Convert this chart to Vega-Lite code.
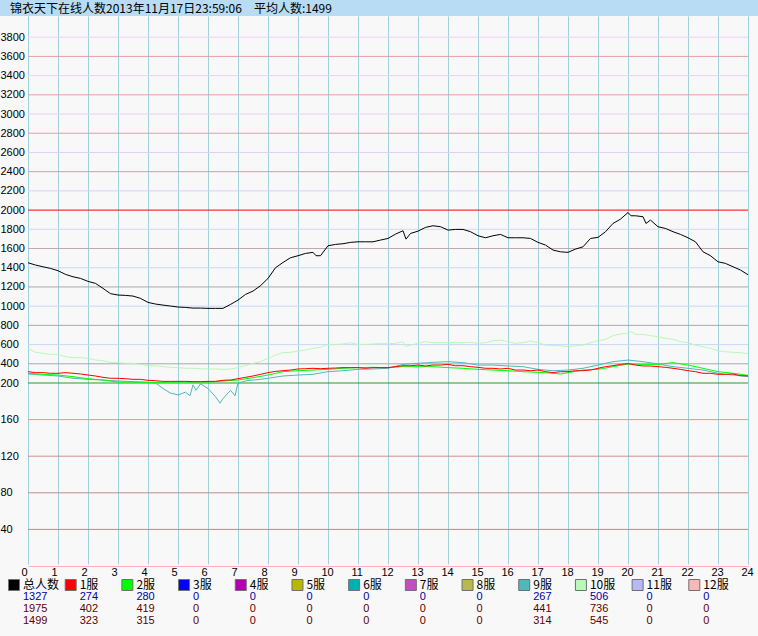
{
"$schema": "https://vega.github.io/schema/vega-lite/v6.json",
"background": "#f8f8f8",
"padding": {"left": 0, "top": 0, "right": 0, "bottom": 10},
"spacing": 0,
"config": {"view": {"stroke": null}, "font": "Liberation Sans"},
"resolve": {"scale": {"x": "independent", "y": "independent", "color": "independent"}},
"datasets": {
"grid": [{"v":40},{"v":80},{"v":120},{"v":160},{"v":200},{"v":400},{"v":600},{"v":800},{"v":1000},{"v":1200},{"v":1400},{"v":1600},{"v":1800},{"v":2000},{"v":2200},{"v":2400},{"v":2600},{"v":2800},{"v":3000},{"v":3200},{"v":3400},{"v":3600},{"v":3800}],
"series": [
{"s":"10服","h":0,"v":561},{"s":"10服","h":0.25,"v":519},{"s":"10服","h":0.5,"v":509},{"s":"10服","h":0.75,"v":498},{"s":"10服","h":1,"v":498},{"s":"10服","h":1.25,"v":474},{"s":"10服","h":1.5,"v":464},{"s":"10服","h":1.75,"v":464},{"s":"10服","h":2,"v":457},{"s":"10服","h":2.25,"v":439},{"s":"10服","h":2.5,"v":432},{"s":"10服","h":2.75,"v":415},{"s":"10服","h":3,"v":412},{"s":"10服","h":3.25,"v":405},{"s":"10服","h":3.5,"v":405},{"s":"10服","h":3.75,"v":394},{"s":"10服","h":4,"v":380},{"s":"10服","h":4.25,"v":377},{"s":"10服","h":4.5,"v":370},{"s":"10服","h":4.75,"v":363},{"s":"10服","h":5,"v":360},{"s":"10服","h":5.25,"v":353},{"s":"10服","h":5.5,"v":353},{"s":"10服","h":5.75,"v":349},{"s":"10服","h":6,"v":346},{"s":"10服","h":6.25,"v":346},{"s":"10服","h":6.5,"v":342},{"s":"10服","h":6.75,"v":346},{"s":"10服","h":7,"v":360},{"s":"10服","h":7.25,"v":380},{"s":"10服","h":7.5,"v":405},{"s":"10服","h":7.75,"v":422},{"s":"10服","h":8,"v":457},{"s":"10服","h":8.25,"v":491},{"s":"10服","h":8.5,"v":516},{"s":"10服","h":8.75,"v":519},{"s":"10服","h":9,"v":533},{"s":"10服","h":9.25,"v":543},{"s":"10服","h":9.5,"v":561},{"s":"10服","h":9.75,"v":571},{"s":"10服","h":10,"v":602},{"s":"10服","h":10.25,"v":602},{"s":"10服","h":10.5,"v":606},{"s":"10服","h":10.75,"v":620},{"s":"10服","h":11,"v":602},{"s":"10服","h":11.25,"v":602},{"s":"10服","h":11.5,"v":606},{"s":"10服","h":11.75,"v":613},{"s":"10服","h":12,"v":610},{"s":"10服","h":12.25,"v":613},{"s":"10服","h":12.5,"v":630},{"s":"10服","h":12.6,"v":578},{"s":"10服","h":12.75,"v":595},{"s":"10服","h":13,"v":613},{"s":"10服","h":13.25,"v":630},{"s":"10服","h":13.5,"v":620},{"s":"10服","h":13.75,"v":623},{"s":"10服","h":14,"v":620},{"s":"10服","h":14.25,"v":623},{"s":"10服","h":14.5,"v":620},{"s":"10服","h":14.75,"v":623},{"s":"10服","h":15,"v":613},{"s":"10服","h":15.25,"v":620},{"s":"10服","h":15.5,"v":640},{"s":"10服","h":15.75,"v":647},{"s":"10服","h":16,"v":630},{"s":"10服","h":16.25,"v":613},{"s":"10服","h":16.5,"v":620},{"s":"10服","h":16.75,"v":637},{"s":"10服","h":17,"v":620},{"s":"10服","h":17.25,"v":595},{"s":"10服","h":17.5,"v":588},{"s":"10服","h":17.75,"v":588},{"s":"10服","h":18,"v":578},{"s":"10服","h":18.25,"v":588},{"s":"10服","h":18.5,"v":595},{"s":"10服","h":18.75,"v":620},{"s":"10服","h":19,"v":640},{"s":"10服","h":19.25,"v":654},{"s":"10服","h":19.5,"v":693},{"s":"10服","h":19.75,"v":710},{"s":"10服","h":20,"v":717},{"s":"10服","h":20.1,"v":736},{"s":"10服","h":20.25,"v":706},{"s":"10服","h":20.5,"v":706},{"s":"10服","h":20.75,"v":693},{"s":"10服","h":21,"v":682},{"s":"10服","h":21.25,"v":665},{"s":"10服","h":21.5,"v":654},{"s":"10服","h":21.75,"v":630},{"s":"10服","h":22,"v":620},{"s":"10服","h":22.25,"v":595},{"s":"10服","h":22.5,"v":578},{"s":"10服","h":22.75,"v":561},{"s":"10服","h":23,"v":536},{"s":"10服","h":23.25,"v":526},{"s":"10服","h":23.5,"v":519},{"s":"10服","h":23.75,"v":516},{"s":"10服","h":24,"v":506},
{"s":"9服","h":0,"v":294},{"s":"9服","h":0.5,"v":283},{"s":"9服","h":1,"v":273},{"s":"9服","h":1.5,"v":249},{"s":"9服","h":2,"v":238},{"s":"9服","h":2.5,"v":231},{"s":"9服","h":3,"v":221},{"s":"9服","h":3.5,"v":214},{"s":"9服","h":4,"v":207},{"s":"9服","h":4.25,"v":200},{"s":"9服","h":4.5,"v":194},{"s":"9服","h":4.75,"v":189},{"s":"9服","h":5,"v":187},{"s":"9服","h":5.25,"v":190},{"s":"9服","h":5.4,"v":186},{"s":"9服","h":5.5,"v":198},{"s":"9服","h":5.6,"v":192},{"s":"9服","h":5.75,"v":199},{"s":"9服","h":6,"v":194},{"s":"9服","h":6.25,"v":185},{"s":"9服","h":6.4,"v":178},{"s":"9服","h":6.5,"v":183},{"s":"9服","h":6.75,"v":192},{"s":"9服","h":6.9,"v":186},{"s":"9服","h":7,"v":200},{"s":"9服","h":7.25,"v":221},{"s":"9服","h":7.5,"v":231},{"s":"9服","h":7.75,"v":238},{"s":"9服","h":8,"v":249},{"s":"9服","h":8.5,"v":273},{"s":"9服","h":9,"v":283},{"s":"9服","h":9.5,"v":290},{"s":"9服","h":10,"v":318},{"s":"9服","h":10.5,"v":328},{"s":"9服","h":11,"v":342},{"s":"9服","h":11.5,"v":346},{"s":"9服","h":12,"v":353},{"s":"9服","h":12.5,"v":394},{"s":"9服","h":13,"v":405},{"s":"9服","h":13.5,"v":415},{"s":"9服","h":14,"v":422},{"s":"9服","h":14.5,"v":412},{"s":"9服","h":15,"v":387},{"s":"9服","h":15.5,"v":387},{"s":"9服","h":16,"v":377},{"s":"9服","h":16.5,"v":370},{"s":"9服","h":17,"v":342},{"s":"9服","h":17.5,"v":328},{"s":"9服","h":18,"v":335},{"s":"9服","h":18.5,"v":353},{"s":"9服","h":19,"v":387},{"s":"9服","h":19.5,"v":422},{"s":"9服","h":20,"v":439},{"s":"9服","h":20.5,"v":422},{"s":"9服","h":21,"v":398},{"s":"9服","h":21.5,"v":370},{"s":"9服","h":22,"v":353},{"s":"9服","h":22.5,"v":335},{"s":"9服","h":23,"v":301},{"s":"9服","h":23.5,"v":283},{"s":"9服","h":24,"v":267},
{"s":"2服","h":0,"v":301},{"s":"2服","h":0.5,"v":290},{"s":"2服","h":1,"v":283},{"s":"2服","h":1.5,"v":266},{"s":"2服","h":2,"v":245},{"s":"2服","h":2.5,"v":231},{"s":"2服","h":3,"v":210},{"s":"2服","h":3.5,"v":210},{"s":"2服","h":4,"v":207},{"s":"2服","h":4.5,"v":207},{"s":"2服","h":5,"v":210},{"s":"2服","h":5.5,"v":210},{"s":"2服","h":6,"v":210},{"s":"2服","h":6.5,"v":221},{"s":"2服","h":7,"v":231},{"s":"2服","h":7.5,"v":255},{"s":"2服","h":8,"v":283},{"s":"2服","h":8.5,"v":318},{"s":"2服","h":9,"v":328},{"s":"2服","h":9.5,"v":335},{"s":"2服","h":10,"v":342},{"s":"2服","h":10.5,"v":353},{"s":"2服","h":11,"v":360},{"s":"2服","h":11.5,"v":363},{"s":"2服","h":12,"v":360},{"s":"2服","h":12.5,"v":370},{"s":"2服","h":13,"v":370},{"s":"2服","h":13.5,"v":370},{"s":"2服","h":14,"v":360},{"s":"2服","h":14.5,"v":353},{"s":"2服","h":15,"v":342},{"s":"2服","h":15.5,"v":335},{"s":"2服","h":16,"v":328},{"s":"2服","h":16.5,"v":318},{"s":"2服","h":17,"v":311},{"s":"2服","h":17.5,"v":301},{"s":"2服","h":17.75,"v":294},{"s":"2服","h":18,"v":308},{"s":"2服","h":18.5,"v":335},{"s":"2服","h":19,"v":342},{"s":"2服","h":19.5,"v":370},{"s":"2服","h":20,"v":398},{"s":"2服","h":20.5,"v":394},{"s":"2服","h":21,"v":394},{"s":"2服","h":21.5,"v":412},{"s":"2服","h":22,"v":387},{"s":"2服","h":22.5,"v":353},{"s":"2服","h":23,"v":318},{"s":"2服","h":23.5,"v":301},{"s":"2服","h":24,"v":280},
{"s":"1服","h":0,"v":318},{"s":"1服","h":0.25,"v":308},{"s":"1服","h":0.5,"v":308},{"s":"1服","h":0.75,"v":301},{"s":"1服","h":1,"v":301},{"s":"1服","h":1.25,"v":308},{"s":"1服","h":1.5,"v":301},{"s":"1服","h":1.75,"v":294},{"s":"1服","h":2,"v":283},{"s":"1服","h":2.25,"v":273},{"s":"1服","h":2.5,"v":259},{"s":"1服","h":2.75,"v":249},{"s":"1服","h":3,"v":249},{"s":"1服","h":3.25,"v":245},{"s":"1服","h":3.5,"v":238},{"s":"1服","h":3.75,"v":238},{"s":"1服","h":4,"v":228},{"s":"1服","h":4.25,"v":224},{"s":"1服","h":4.5,"v":217},{"s":"1服","h":4.75,"v":217},{"s":"1服","h":5,"v":217},{"s":"1服","h":5.25,"v":217},{"s":"1服","h":5.5,"v":214},{"s":"1服","h":5.75,"v":214},{"s":"1服","h":6,"v":217},{"s":"1服","h":6.25,"v":217},{"s":"1服","h":6.5,"v":228},{"s":"1服","h":6.75,"v":231},{"s":"1服","h":7,"v":245},{"s":"1服","h":7.25,"v":259},{"s":"1服","h":7.5,"v":273},{"s":"1服","h":7.75,"v":290},{"s":"1服","h":8,"v":308},{"s":"1服","h":8.25,"v":321},{"s":"1服","h":8.5,"v":328},{"s":"1服","h":8.75,"v":335},{"s":"1服","h":9,"v":346},{"s":"1服","h":9.25,"v":349},{"s":"1服","h":9.5,"v":353},{"s":"1服","h":9.75,"v":349},{"s":"1服","h":10,"v":353},{"s":"1服","h":10.25,"v":356},{"s":"1服","h":10.5,"v":360},{"s":"1服","h":10.75,"v":360},{"s":"1服","h":11,"v":360},{"s":"1服","h":11.25,"v":353},{"s":"1服","h":11.5,"v":360},{"s":"1服","h":11.75,"v":360},{"s":"1服","h":12,"v":360},{"s":"1服","h":12.25,"v":370},{"s":"1服","h":12.5,"v":380},{"s":"1服","h":12.75,"v":380},{"s":"1服","h":13,"v":387},{"s":"1服","h":13.25,"v":377},{"s":"1服","h":13.5,"v":387},{"s":"1服","h":13.75,"v":387},{"s":"1服","h":14,"v":394},{"s":"1服","h":14.25,"v":380},{"s":"1服","h":14.5,"v":380},{"s":"1服","h":14.75,"v":370},{"s":"1服","h":15,"v":363},{"s":"1服","h":15.25,"v":353},{"s":"1服","h":15.5,"v":353},{"s":"1服","h":15.75,"v":346},{"s":"1服","h":16,"v":353},{"s":"1服","h":16.25,"v":335},{"s":"1服","h":16.5,"v":335},{"s":"1服","h":16.75,"v":328},{"s":"1服","h":17,"v":335},{"s":"1服","h":17.25,"v":318},{"s":"1服","h":17.5,"v":308},{"s":"1服","h":17.75,"v":318},{"s":"1服","h":18,"v":318},{"s":"1服","h":18.25,"v":328},{"s":"1服","h":18.5,"v":328},{"s":"1服","h":18.75,"v":335},{"s":"1服","h":19,"v":353},{"s":"1服","h":19.25,"v":370},{"s":"1服","h":19.5,"v":380},{"s":"1服","h":19.75,"v":394},{"s":"1服","h":20,"v":402},{"s":"1服","h":20.25,"v":387},{"s":"1服","h":20.5,"v":377},{"s":"1服","h":20.75,"v":377},{"s":"1服","h":21,"v":370},{"s":"1服","h":21.25,"v":363},{"s":"1服","h":21.5,"v":353},{"s":"1服","h":21.75,"v":342},{"s":"1服","h":22,"v":328},{"s":"1服","h":22.25,"v":318},{"s":"1服","h":22.5,"v":301},{"s":"1服","h":22.75,"v":301},{"s":"1服","h":23,"v":290},{"s":"1服","h":23.25,"v":290},{"s":"1服","h":23.5,"v":294},{"s":"1服","h":23.75,"v":276},{"s":"1服","h":24,"v":274},
{"s":"总人数","h":0,"v":1452},{"s":"总人数","h":0.25,"v":1428},{"s":"总人数","h":0.5,"v":1410},{"s":"总人数","h":0.75,"v":1393},{"s":"总人数","h":1,"v":1369},{"s":"总人数","h":1.25,"v":1331},{"s":"总人数","h":1.5,"v":1306},{"s":"总人数","h":1.75,"v":1289},{"s":"总人数","h":2,"v":1258},{"s":"总人数","h":2.25,"v":1237},{"s":"总人数","h":2.5,"v":1185},{"s":"总人数","h":2.75,"v":1130},{"s":"总人数","h":3,"v":1116},{"s":"总人数","h":3.25,"v":1112},{"s":"总人数","h":3.5,"v":1105},{"s":"总人数","h":3.75,"v":1081},{"s":"总人数","h":4,"v":1039},{"s":"总人数","h":4.25,"v":1022},{"s":"总人数","h":4.5,"v":1011},{"s":"总人数","h":4.75,"v":1001},{"s":"总人数","h":5,"v":991},{"s":"总人数","h":5.25,"v":987},{"s":"总人数","h":5.5,"v":980},{"s":"总人数","h":5.75,"v":980},{"s":"总人数","h":6,"v":977},{"s":"总人数","h":6.25,"v":977},{"s":"总人数","h":6.5,"v":977},{"s":"总人数","h":6.75,"v":1018},{"s":"总人数","h":7,"v":1063},{"s":"总人数","h":7.25,"v":1122},{"s":"总人数","h":7.5,"v":1157},{"s":"总人数","h":7.75,"v":1213},{"s":"总人数","h":8,"v":1289},{"s":"总人数","h":8.25,"v":1400},{"s":"总人数","h":8.5,"v":1455},{"s":"总人数","h":8.75,"v":1504},{"s":"总人数","h":9,"v":1525},{"s":"总人数","h":9.25,"v":1549},{"s":"总人数","h":9.5,"v":1560},{"s":"总人数","h":9.6,"v":1525},{"s":"总人数","h":9.75,"v":1525},{"s":"总人数","h":10,"v":1629},{"s":"总人数","h":10.25,"v":1643},{"s":"总人数","h":10.5,"v":1650},{"s":"总人数","h":10.75,"v":1664},{"s":"总人数","h":11,"v":1670},{"s":"总人数","h":11.25,"v":1670},{"s":"总人数","h":11.5,"v":1670},{"s":"总人数","h":11.75,"v":1688},{"s":"总人数","h":12,"v":1705},{"s":"总人数","h":12.25,"v":1750},{"s":"总人数","h":12.5,"v":1785},{"s":"总人数","h":12.6,"v":1698},{"s":"总人数","h":12.75,"v":1757},{"s":"总人数","h":13,"v":1781},{"s":"总人数","h":13.25,"v":1820},{"s":"总人数","h":13.5,"v":1837},{"s":"总人数","h":13.75,"v":1827},{"s":"总人数","h":14,"v":1792},{"s":"总人数","h":14.25,"v":1799},{"s":"总人数","h":14.5,"v":1799},{"s":"总人数","h":14.75,"v":1775},{"s":"总人数","h":15,"v":1733},{"s":"总人数","h":15.25,"v":1712},{"s":"总人数","h":15.5,"v":1733},{"s":"总人数","h":15.75,"v":1747},{"s":"总人数","h":16,"v":1712},{"s":"总人数","h":16.25,"v":1712},{"s":"总人数","h":16.5,"v":1712},{"s":"总人数","h":16.75,"v":1705},{"s":"总人数","h":17,"v":1664},{"s":"总人数","h":17.25,"v":1636},{"s":"总人数","h":17.5,"v":1584},{"s":"总人数","h":17.75,"v":1566},{"s":"总人数","h":18,"v":1560},{"s":"总人数","h":18.25,"v":1594},{"s":"总人数","h":18.5,"v":1618},{"s":"总人数","h":18.75,"v":1705},{"s":"总人数","h":19,"v":1716},{"s":"总人数","h":19.25,"v":1775},{"s":"总人数","h":19.5,"v":1861},{"s":"总人数","h":19.75,"v":1906},{"s":"总人数","h":20,"v":1975},{"s":"总人数","h":20.1,"v":1941},{"s":"总人数","h":20.25,"v":1941},{"s":"总人数","h":20.5,"v":1931},{"s":"总人数","h":20.6,"v":1861},{"s":"总人数","h":20.75,"v":1896},{"s":"总人数","h":21,"v":1827},{"s":"总人数","h":21.25,"v":1809},{"s":"总人数","h":21.5,"v":1775},{"s":"总人数","h":21.75,"v":1747},{"s":"总人数","h":22,"v":1712},{"s":"总人数","h":22.25,"v":1670},{"s":"总人数","h":22.5,"v":1566},{"s":"总人数","h":22.75,"v":1525},{"s":"总人数","h":23,"v":1462},{"s":"总人数","h":23.25,"v":1445},{"s":"总人数","h":23.5,"v":1410},{"s":"总人数","h":23.75,"v":1376},{"s":"总人数","h":24,"v":1327}
],
"legend": [{"name":"总人数"},{"name":"1服"},{"name":"2服"},{"name":"3服"},{"name":"4服"},{"name":"5服"},{"name":"6服"},{"name":"7服"},{"name":"8服"},{"name":"9服"},{"name":"10服"},{"name":"11服"},{"name":"12服"}],
"table": [
{"name":"总人数","row":"cur","n":1327},{"name":"总人数","row":"max","n":1975},{"name":"总人数","row":"avg","n":1499},
{"name":"1服","row":"cur","n":274},{"name":"1服","row":"max","n":402},{"name":"1服","row":"avg","n":323},
{"name":"2服","row":"cur","n":280},{"name":"2服","row":"max","n":419},{"name":"2服","row":"avg","n":315},
{"name":"3服","row":"cur","n":0},{"name":"3服","row":"max","n":0},{"name":"3服","row":"avg","n":0},
{"name":"4服","row":"cur","n":0},{"name":"4服","row":"max","n":0},{"name":"4服","row":"avg","n":0},
{"name":"5服","row":"cur","n":0},{"name":"5服","row":"max","n":0},{"name":"5服","row":"avg","n":0},
{"name":"6服","row":"cur","n":0},{"name":"6服","row":"max","n":0},{"name":"6服","row":"avg","n":0},
{"name":"7服","row":"cur","n":0},{"name":"7服","row":"max","n":0},{"name":"7服","row":"avg","n":0},
{"name":"8服","row":"cur","n":0},{"name":"8服","row":"max","n":0},{"name":"8服","row":"avg","n":0},
{"name":"9服","row":"cur","n":267},{"name":"9服","row":"max","n":441},{"name":"9服","row":"avg","n":314},
{"name":"10服","row":"cur","n":506},{"name":"10服","row":"max","n":736},{"name":"10服","row":"avg","n":545},
{"name":"11服","row":"cur","n":0},{"name":"11服","row":"max","n":0},{"name":"11服","row":"avg","n":0},
{"name":"12服","row":"cur","n":0},{"name":"12服","row":"max","n":0},{"name":"12服","row":"avg","n":0}
]
},
"vconcat": [
{
"width": 758, "height": 16,
"view": {"fill": "#b8dcf4", "stroke": null},
"data": {"values": [{"t": "锦衣天下在线人数2013年11月17日23:59:06　平均人数:1499"}]},
"mark": {"type": "text", "align": "left", "baseline": "middle", "font": "Noto Sans CJK SC", "fontSize": 12, "color": "#000000"},
"encoding": {"text": {"field": "t", "type": "nominal"}, "x": {"value": 10}, "y": {"value": 9}}
},
{
"width": 748, "height": 550,
"layer": [
{
"data": {"name": "grid"},
"mark": {"type": "rule", "strokeWidth": 1},
"encoding": {
"x": {"datum": 0, "type": "quantitative", "scale": {"domain": [0, 24], "range": [28, 748], "nice": false, "zero": false},
"axis": {"title": null, "values": [0,1,2,3,4,5,6,7,8,9,10,11,12,13,14,15,16,17,18,19,20,21,22,23,24], "grid": true, "gridColor": "#a0d0d8", "gridOpacity": 1, "ticks": false, "domain": true, "domainColor": "#ffb0b0", "labelAlign": "left", "labelOffset": -7, "labelPadding": 0, "labelBaseline": "top", "labelFont": "Liberation Sans", "labelFontSize": 11, "labelColor": "#000000", "labelOverlap": false, "labelFlush": false}},
"x2": {"datum": 24},
"y": {"field": "v", "type": "quantitative", "scale": {"domain": [0, 200, 4000], "range": [550, 367, 2], "nice": false, "zero": false},
"axis": {"title": null, "values": [40,80,120,160,200,400,600,800,1000,1200,1400,1600,1800,2000,2200,2400,2600,2800,3000,3200,3400,3600,3800], "grid": false, "ticks": false, "domain": false, "labelAlign": "left", "labelPadding": 0, "labelBaseline": "middle", "labelFont": "Liberation Sans", "labelFontSize": 11, "labelColor": "#000000", "labelOverlap": false, "labelFlush": false, "format": "d"}},
"stroke": {"field": "v", "type": "nominal", "legend": null, "scale": {
"domain": [40,80,120,160,200,400,600,800,1000,1200,1400,1600,1800,2000,2200,2400,2600,2800,3000,3200,3400,3600,3800],
"range": ["#a89090","#b89090","#d09090","#f09090","#20a020","#a8a8b0","#c8d8f8","#a8a8b0","#c8d8f8","#a8a8b0","#c8d8f8","#c0a8b0","#d0d8f8","#ff0000","#d8d0f8","#c8a0b0","#e0d0f8","#e0a0a8","#e8d0f0","#e0a0a8","#ecd0f8","#e0a0a8","#ecd0f8"]}}
}
},
{
"data": {"name": "series"},
"mark": {"type": "line", "strokeWidth": 1, "interpolate": "linear"},
"encoding": {
"x": {"field": "h", "type": "quantitative", "scale": {"domain": [0, 24], "range": [28, 748], "nice": false, "zero": false},
"axis": {"title": null, "values": [0,1,2,3,4,5,6,7,8,9,10,11,12,13,14,15,16,17,18,19,20,21,22,23,24], "grid": true, "gridColor": "#a0d0d8", "gridOpacity": 1, "ticks": false, "domain": true, "domainColor": "#ffb0b0", "labelAlign": "left", "labelOffset": -7, "labelPadding": 0, "labelBaseline": "top", "labelFont": "Liberation Sans", "labelFontSize": 11, "labelColor": "#000000", "labelOverlap": false, "labelFlush": false}},
"y": {"field": "v", "type": "quantitative", "scale": {"domain": [0, 200, 4000], "range": [550, 367, 2], "nice": false, "zero": false},
"axis": {"title": null, "values": [40,80,120,160,200,400,600,800,1000,1200,1400,1600,1800,2000,2200,2400,2600,2800,3000,3200,3400,3600,3800], "grid": false, "ticks": false, "domain": false, "labelAlign": "left", "labelPadding": 0, "labelBaseline": "middle", "labelFont": "Liberation Sans", "labelFontSize": 11, "labelColor": "#000000", "labelOverlap": false, "labelFlush": false, "format": "d"}},
"color": {"field": "s", "type": "nominal", "legend": null, "scale": {"domain": ["10服","9服","2服","1服","总人数"], "range": ["#b8f8b8","#50b8b8","#00ff00","#ff0000","#000000"]}}
}
}
]
},
{
"width": 737, "height": 48,
"layer": [
{
"data": {"name": "legend"},
"mark": {"type": "square", "size": 121, "filled": true, "opacity": 1, "stroke": "#707070", "strokeWidth": 1, "xOffset": 14},
"encoding": {
"x": {"field": "name", "type": "nominal", "bandPosition": 0, "axis": null, "scale": {"type": "band", "paddingInner": 0, "paddingOuter": 0, "domain": ["总人数","1服","2服","3服","4服","5服","6服","7服","8服","9服","10服","11服","12服"]}},
"y": {"datum": "label", "type": "nominal", "axis": null, "scale": {"type": "band", "paddingInner": 0, "paddingOuter": 0, "domain": ["label","cur","max","avg"]}},
"fill": {"field": "name", "type": "nominal", "legend": null, "scale": {"domain": ["总人数","1服","2服","3服","4服","5服","6服","7服","8服","9服","10服","11服","12服"], "range": ["#000000","#ff0000","#00ff00","#0000ff","#b000b0","#b8b800","#00b0b0","#c050c0","#b8b850","#50b8b8","#b8f8b8","#b8b8f8","#f8b8b8"]}}
}
},
{
"data": {"name": "legend"},
"mark": {"type": "text", "align": "left", "baseline": "middle", "dx": 23, "font": "Noto Sans CJK SC", "fontSize": 12, "color": "#000000"},
"encoding": {
"x": {"field": "name", "type": "nominal", "bandPosition": 0, "axis": null},
"y": {"datum": "label", "type": "nominal", "axis": null},
"text": {"field": "name", "type": "nominal"}
}
},
{
"data": {"name": "table"},
"mark": {"type": "text", "align": "left", "baseline": "middle", "dx": 23, "font": "Liberation Sans", "fontSize": 11},
"encoding": {
"x": {"field": "name", "type": "nominal", "bandPosition": 0, "axis": null},
"y": {"field": "row", "type": "nominal", "axis": null},
"text": {"field": "n", "type": "nominal"},
"color": {"field": "row", "type": "nominal", "legend": null, "scale": {"domain": ["cur","max","avg"], "range": ["#0000a0","#600000","#600000"]}}
}
}
]
}
]
}
